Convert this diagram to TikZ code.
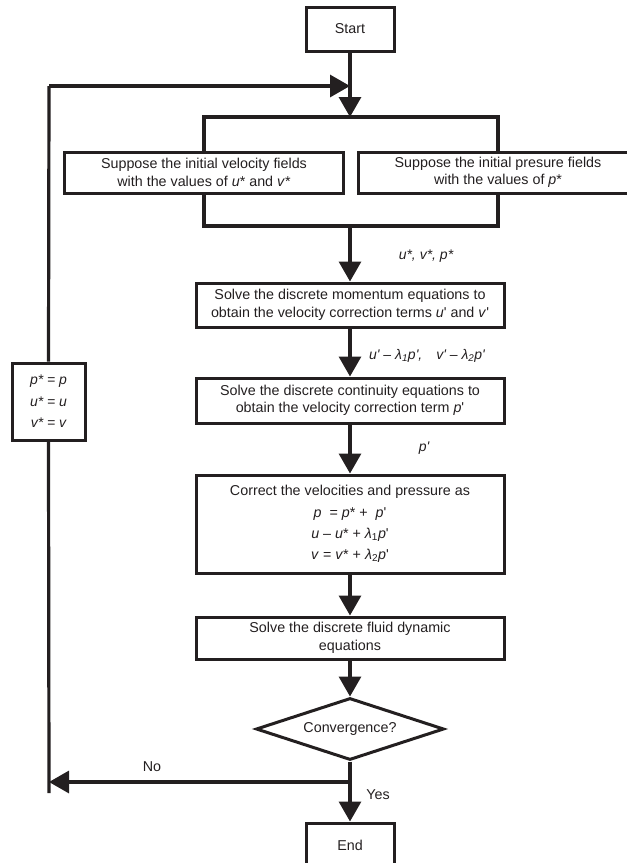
\documentclass[tikz,border=0pt]{standalone}
\usepackage{fontspec}
\setmainfont{Liberation Sans}[Ligatures=TeXOff]
\usetikzlibrary{shapes.geometric,arrows.meta}
\definecolor{ink}{HTML}{231F20}
\begin{document}
\begin{tikzpicture}[x=1pt,y=-1pt,
  box/.style={draw=ink,line width=3pt,rectangle,inner sep=0pt,align=center,
    font=\fontsize{14.3}{17.5}\selectfont,text=ink},
  decision/.style={draw=ink,line width=3pt,diamond,aspect=3,inner sep=0pt,
    minimum width=188pt,minimum height=62pt,font=\fontsize{14.3}{17.5}\selectfont,text=ink},
  flow/.style={draw=ink,line width=3.2pt,-{Triangle[length=20pt,width=22pt]}},
  plain/.style={draw=ink,line width=3.2pt},
  lbl/.style={font=\fontsize{14}{17}\selectfont\itshape,text=ink,inner sep=0pt},
  txt/.style={font=\fontsize{14.3}{17}\selectfont,text=ink,inner sep=0pt}]
\useasboundingbox (0,0) rectangle (627,863);

\node[box,minimum width=88pt,minimum height=44pt] (start) at (350,29) {Start};
\node[box,minimum width=279pt,minimum height=41pt] (velbox) at (204,172.5)
  {Suppose the initial velocity fields\\with the values of \textit{u}* and \textit{v}*};
\node[box,minimum width=280pt,minimum height=41pt] (presbox) at (498,172.5)
  {Suppose the initial presure fields\\with the values of \textit{p}*};
\node[box,minimum width=308pt,minimum height=44pt] (mom) at (350,305)
  {Solve the discrete momentum equations to\\obtain the velocity correction terms \textit{u}' and \textit{v}'};
\node[box,minimum width=308pt,minimum height=45pt] (cont) at (350,400.5)
  {Solve the discrete continuity equations to\\obtain the velocity correction term \textit{p}'};
\node[box,minimum width=308pt,minimum height=98pt] (corr) at (350,524)
  {Correct the velocities and pressure as\\[4pt]
   \textit{p}\ \ = \textit{p}* + \ \textit{p}'\\[3.5pt]
   \textit{u} – \textit{u}* + \textit{λ}\textsubscript{1}\textit{p}'\\[3.5pt]
   \textit{v} = \textit{v}* + \textit{λ}\textsubscript{2}\textit{p}'};
\node[box,minimum width=308pt,minimum height=42pt] (fluid) at (350,638)
  {Solve the discrete fluid dynamic\\equations};
\node[decision] (conv) at (350,729) {Convergence?};
\node[box,minimum width=88pt,minimum height=44pt] (endn) at (350,845) {End};
\node[box,minimum width=73pt,minimum height=77pt,font=\fontsize{14}{21.5}\selectfont\itshape] (upd) at (48.5,401.5)
  {p* = p\\u* = u\\v* = v};

% labels
\node[lbl] (l1) at (426,256) {u*, v*, p*};
\node[lbl] (l2) at (427,356) {u' – λ\textsubscript{1}p',\quad v' – λ\textsubscript{2}p'};
\node[lbl] (l3) at (424,448) {p'};
\node[txt] (lno) at (152,767) {No};
\node[txt] (lyes) at (378,795) {Yes};

% coordinates
\coordinate (join) at (350,86);
\coordinate (btop) at (350,117);
\coordinate (bbot) at (350,226);
\coordinate (split) at (350,782);
\coordinate (lbot) at (49,793);
\coordinate (lcorner) at (49,86);
\coordinate (ltip) at (49,782);

% connectors
\draw[plain] (start.south) -- (join);
\draw[flow] (join) -- (btop);
\draw[plain] (velbox.north) -- (velbox.north |- btop) -- (presbox.north |- btop) -- (presbox.north);
\draw[plain] (velbox.south) -- (velbox.south |- bbot) -- (presbox.south |- bbot) -- (presbox.south);
\draw[flow] (bbot) -- (mom.north);
\draw[flow] (mom.south) -- (cont.north);
\draw[flow] (cont.south) -- (corr.north);
\draw[flow] (corr.south) -- (fluid.north);
\draw[flow] (fluid.south) -- (conv.north);
\draw[plain] (conv.south) -- (split);
\draw[flow] (split) -- (endn.north);
\draw[flow] (split) -- (ltip);
\draw[plain] (lbot) -- (upd.south);
\draw[plain] (upd.north) -- (lcorner);
\draw[flow] (lcorner) -- (join);
\end{tikzpicture}
\end{document}
